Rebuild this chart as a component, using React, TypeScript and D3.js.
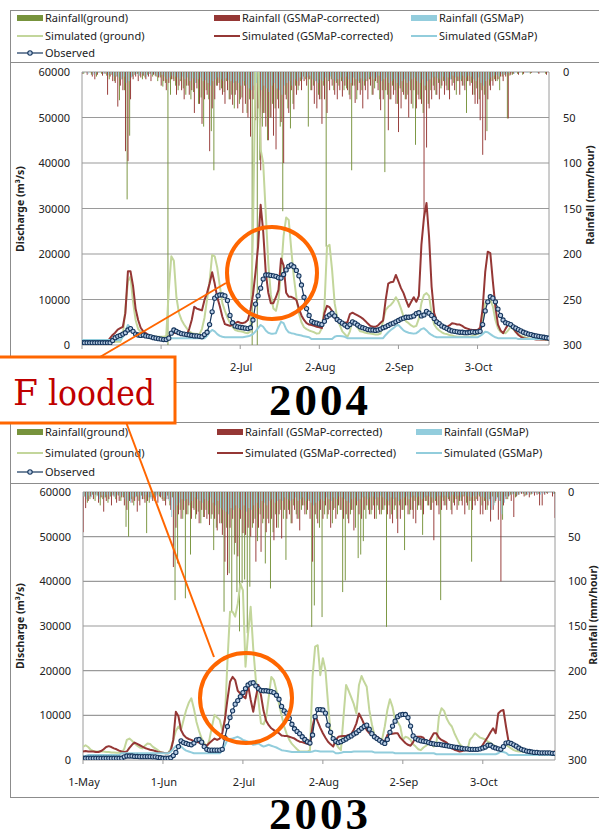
import React from "react";
import * as d3 from "d3";

// ---------- shared axis data ----------
const xTickLabels = ["1-May", "1-Jun", "2-Jul", "2-Aug", "2-Sep", "3-Oct"];
const xTickDays = [0, 31, 62, 93, 124, 155];
const dischargeTicks = [0, 10000, 20000, 30000, 40000, 50000, 60000];
const rainTicks = [0, 50, 100, 150, 200, 250, 300];
const legendLabels = [
  "Rainfall(ground)", "Rainfall (GSMaP-corrected)", "Rainfall (GSMaP)",
  "Simulated (ground)", "Simulated (GSMaP-corrected)", "Simulated (GSMaP)",
  "Observed",
];
const yearLabels = ["2004", "2003"];

// ---------- 2004 discharge (m3/s), daily from 1-May ----------
const obs04 = [
  500,500,500,500,500,500,500,500,500,500,
  500,500,1000,1600,1900,2100,2400,2700,3300,3600,
  3000,2400,2200,2100,2200,2000,1900,1800,1600,1500,
  1400,1300,1200,1200,1500,2600,3300,3000,2700,2500,
  2400,2300,2200,2100,2000,2000,1900,1800,2300,2800,
  4500,7300,10300,10800,11000,11000,10800,9800,6500,4900,
  4200,4000,3900,3800,3700,3600,3800,5500,9000,10800,
  12500,14500,15400,15400,15300,15200,15100,14800,14700,15500,
  16500,17300,17600,17200,16400,15200,13200,10500,8000,6500,
  5200,4900,4800,4600,4500,5200,6200,6600,7000,6400,
  5600,5200,4800,4400,4000,4500,5100,4800,4400,4000,
  3800,3600,3400,3300,3300,3200,3300,3500,3800,4000,
  4300,4600,4800,5100,5400,5700,5900,6100,6100,6200,
  6400,6900,7100,6400,6600,7400,7000,6500,5800,5100,
  4700,4200,3900,3600,3300,3100,3000,2900,2800,2800,
  2700,2700,2800,2900,2800,2900,3000,4500,7500,9500,
  10600,10300,9500,7900,6500,5500,4900,4700,4500,4000,
  3700,3400,3100,2800,2600,2400,2300,2100,2000,1900,
  1800,1700,1600,1500,
];
const simCor04 = [
  500,500,500,500,500,500,500,500,500,500,
  800,1500,2200,2700,3400,3700,4000,7000,16200,16200,
  13000,8000,5500,3800,3000,2600,2200,2000,1800,1700,
  1600,1500,1500,1400,1600,2900,2700,2600,2400,2300,
  2200,2200,3500,5500,8400,8000,7800,7600,9900,11400,
  13500,16000,13500,10500,8500,6200,4600,4400,4200,4500,
  4800,5100,4900,4800,5000,5500,7700,11000,16000,21600,
  30800,25000,16000,11500,9200,9200,10500,12100,19000,17500,
  11500,10600,10600,10300,9900,8000,6500,5500,4800,4500,
  4400,4200,4000,3900,3700,7000,8600,8300,7500,6000,
  5300,5000,4800,4900,5000,6800,7100,6800,6500,6200,
  5800,5300,4700,4200,4000,4000,4300,4900,5400,9900,
  13500,13800,13900,15400,14000,12500,11400,9800,8400,9500,
  10500,9500,10800,22000,28000,31200,23800,12800,7000,5300,
  4700,4400,4100,4000,4300,4800,4700,4500,4500,4200,
  3800,3600,3400,3300,3300,3300,3800,8000,16000,20500,
  20200,14000,8400,4500,3200,2600,3600,4500,4400,3700,
  2900,2200,1800,1500,1400,1300,1300,1300,1200,1200,
  1200,1200,1200,1200,
];
const simG04 = [
  700,700,700,700,700,700,700,700,700,700,
  700,700,700,700,700,700,2000,8000,14000,15000,
  9500,5500,3500,2900,2500,2200,2000,1900,1800,1800,
  1800,1800,1800,1900,12000,19500,18500,10500,7000,5500,
  4500,3700,3000,2600,2500,2400,2300,3500,6000,10000,
  14000,19800,19500,17000,13000,9200,7500,6000,4800,4000,
  3300,3100,3000,2900,2700,2600,3000,25000,62000,62000,
  43000,40000,29000,18000,11000,8000,7500,10000,16000,24000,
  28000,27500,21000,15000,10500,7000,5000,3900,3500,3200,
  3000,2800,2500,2600,3700,8400,21600,22000,16500,9200,
  6000,4400,3000,2400,1800,3000,5500,4800,3800,3000,
  2900,2700,2600,2500,2400,2300,2300,2500,5500,7700,
  8400,8800,9500,10500,9500,8000,6200,5200,4800,4300,
  4000,4200,5800,9200,11000,11400,10800,7000,4500,3700,
  3200,2800,2500,2400,2200,2100,1900,1800,1800,1800,
  1800,1800,1800,2000,2200,2400,2600,5500,9200,9900,
  9900,8500,5500,3700,2900,2700,2600,3200,4000,3500,
  2800,2300,2000,1800,1600,1500,1400,1400,1300,1300,
  1200,1200,1100,1100,
];
const simS04 = [
  1100,1100,1100,1100,1100,1100,1100,1100,1100,1100,
  1100,1100,1100,1100,1100,1100,1800,3000,4400,3800,
  3000,2600,2400,2200,2100,2000,1900,1800,1700,1700,
  1600,1500,1500,1500,1500,1500,1500,1500,1500,1500,
  1500,1500,1500,1500,1500,1500,1500,1500,1500,2000,
  2800,3300,3000,2400,2000,1800,1700,1700,1700,1700,
  1700,1700,1700,1700,1800,1900,2100,2400,3000,3700,
  4400,4000,3200,2700,2500,2500,2600,4000,5100,4800,
  3500,2800,2600,2500,2300,2200,2100,1900,1800,1700,
  1300,1300,1300,1300,1300,1300,1300,1300,1300,1800,
  2000,2000,1900,1800,1500,1500,1500,1500,1500,1500,
  1500,1500,1500,1500,1500,1500,1500,1500,1500,2200,
  2800,3300,3700,4200,4400,3800,3200,2900,2700,2600,
  2500,2600,3000,3500,3700,3200,2600,2200,1900,1700,
  1700,1700,1700,1700,1700,1700,1700,1700,1700,1700,
  1700,1700,1700,1700,1700,1700,2000,2400,2900,2800,
  2400,2000,1700,1500,1500,1500,1500,1500,1500,1500,
  1500,1300,1300,1300,1300,1300,1300,1300,1300,1300,
  1300,1300,1300,1300,
];
// ---------- 2004 rainfall (mm/hour), daily ----------
const rainG04 = [
  0,2,0,0,3,0,5,0,2,0,
  4,8,3,10,5,31,8,20,140,70,
  5,3,2,4,8,6,3,2,5,4,
  10,6,16,12,300,25,8,15,20,10,
  18,25,15,30,22,12,35,28,60,20,
  30,65,108,15,12,18,22,10,30,25,
  40,20,35,28,15,45,30,300,20,300,
  97,60,45,75,50,35,40,30,60,153,
  25,40,62,35,15,20,10,5,8,60,
  20,15,10,25,30,15,192,10,8,20,
  12,15,10,20,18,25,108,15,30,12,
  20,15,10,8,25,18,12,30,20,110,
  25,30,15,20,35,18,22,30,25,20,
  40,80,25,30,45,20,35,20,15,25,
  12,18,10,15,20,8,12,25,10,10,
  15,45,10,12,25,18,30,20,25,65,
  15,10,8,10,20,5,3,51,4,3,
  0,2,0,3,0,0,2,0,0,1,
  0,0,2,0,
];
const rainC04 = [
  2,0,3,0,5,8,3,0,4,2,
  25,5,10,12,38,15,20,87,98,30,
  8,5,10,6,4,8,5,10,3,5,
  6,15,10,20,12,8,10,25,15,20,
  30,15,25,20,45,18,35,57,30,25,
  87,40,30,15,20,25,35,20,30,36,
  25,40,30,45,35,50,71,30,53,40,
  108,45,60,75,50,70,85,40,55,100,
  30,45,20,41,25,15,20,10,15,8,
  20,35,40,30,57,30,45,20,15,25,
  30,20,27,15,20,30,15,34,20,25,
  40,20,30,15,25,10,20,42,30,20,
  64,30,25,35,66,40,25,30,50,35,
  20,40,30,35,160,83,40,30,20,25,
  30,15,25,20,30,15,20,10,25,15,
  20,10,15,25,35,35,53,91,75,30,
  20,15,10,8,5,10,5,51,3,2,
  0,3,0,2,0,0,1,0,0,2,
  0,0,3,0,
];
const rainS04 = [
  1,0,2,0,3,2,1,0,2,1,
  3,2,5,4,6,8,5,12,10,6,
  3,2,4,2,3,5,2,3,2,4,
  4,3,5,8,6,4,5,6,8,5,
  8,6,10,7,12,8,6,10,9,12,
  15,10,8,6,8,10,7,9,10,12,
  10,12,15,10,14,18,20,15,12,16,
  20,15,18,22,15,12,18,20,25,15,
  12,10,15,8,10,6,8,5,6,4,
  8,10,12,8,10,6,9,5,8,10,
  8,6,10,5,8,12,6,8,10,7,
  10,8,6,5,8,6,4,10,8,6,
  12,10,8,12,15,10,8,12,10,8,
  6,10,12,8,15,10,8,6,5,7,
  8,5,10,6,8,4,6,5,8,4,
  6,4,5,8,10,6,12,15,10,8,
  6,4,3,5,2,3,2,1,0,2,
  0,1,0,0,1,0,0,0,1,0,
  0,0,0,0,
];

// ---------- 2003 discharge (m3/s), daily from 1-May ----------
const obs03 = [
  400,400,400,400,400,400,400,400,400,400,
  400,400,400,400,400,400,700,900,900,900,
  800,800,750,750,750,750,750,700,700,600,
  500,400,400,400,500,1000,1700,3000,4300,3900,
  3700,3500,3400,3800,4500,4600,4000,3000,2400,2200,
  2200,2200,2200,2200,2400,5000,7500,9500,11000,12500,
  13300,14200,15100,16000,16800,17200,17300,16600,16000,15600,
  15500,15500,15400,15300,15100,14500,13600,12000,11000,10500,
  9300,8000,7000,6400,5900,5200,4600,4100,3800,5600,
  9700,11300,11300,11200,10500,7800,6200,4800,4200,3900,
  4100,4400,4700,5100,5400,5800,6100,6600,7100,7500,
  7800,6900,5900,5200,4800,4400,4000,3700,4600,6200,
  7600,8700,9700,10100,10200,10200,9500,7600,5400,4800,
  4500,4300,4200,4100,3900,3700,3600,3500,3500,3400,
  3300,3200,3100,3000,2900,2800,2700,2600,2500,2500,
  2400,2400,2400,2400,2500,2700,2900,3300,3300,2900,
  2700,2500,2400,3000,3800,3900,3700,3400,3100,2700,
  2400,2200,2000,1900,1800,1700,1700,1600,1600,1600,
  1600,1600,1500,1500,
];
const simCor03 = [
  1900,2000,1900,1900,1900,1800,1800,2000,2400,2900,
  3100,2900,2600,2400,2100,1900,1800,1900,2700,3400,
  3900,3600,3300,3000,2700,2500,2300,2200,2000,1800,
  1700,1600,1500,1500,2000,4500,10800,9800,6700,5600,
  5000,4700,4500,4200,4100,3900,3700,3400,3200,3800,
  4300,4800,4500,4800,6000,9000,13500,17500,18600,17900,
  15500,14900,14300,13800,16800,13500,10800,14000,16800,14500,
  11000,8800,7800,7100,6700,6300,6000,5500,5400,5400,
  5200,5000,4800,4400,4100,4000,3800,3600,3500,7500,
  10100,8600,7200,6000,5000,4100,3500,3000,4500,5200,
  5300,5400,5400,5600,5800,6800,8200,10400,9300,8000,
  6700,6000,5800,5600,5200,4800,4400,4100,5600,5800,
  5900,6000,6000,5000,4400,3800,3400,3200,4000,5200,
  5200,5200,5000,4100,4000,5000,6000,6000,5000,4500,
  4200,3900,3200,2600,2300,2100,1900,2000,2200,2200,
  2200,2200,2200,2200,2600,3400,4300,5200,6200,7100,
  6000,10400,11000,11200,7500,4100,3800,3400,3000,2600,
  2300,2100,1900,1800,1600,1600,1600,1600,1600,1600,
  1600,1700,1800,1900,
];
const simG03 = [
  2900,3300,2900,2300,2000,1900,1900,1900,1900,1800,
  1800,1700,1700,1600,1600,1600,2500,4500,4800,4300,
  3700,3200,2800,2600,3200,3700,3600,3000,2600,2200,
  1800,1600,1500,1500,2500,4500,6500,7500,6700,9000,
  11200,12800,13800,11500,8500,6500,4800,3800,3000,4500,
  7500,10100,9500,9000,6700,9000,22000,33200,33200,32100,
  35000,39500,38000,20900,28300,34300,25000,18000,13400,8200,
  8000,9500,14000,18600,17900,15500,12500,10000,7500,5800,
  4500,3600,3000,2400,1900,1900,1900,1900,2200,18600,
  25400,25700,19000,22800,20100,12700,6000,4500,3700,2800,
  2200,9700,16800,15500,14000,12500,10400,16800,18800,17500,
  16400,11200,8000,5500,5000,4500,4700,7500,11200,13600,
  11900,9000,8500,7500,4500,5200,5000,4500,3500,3000,
  2400,2200,2800,3200,3700,3500,3000,3500,9700,11600,
  11000,9300,8200,7500,6000,4800,3600,3000,2400,2200,
  4500,5200,6000,5500,5000,4800,4600,4100,3800,3400,
  3000,2600,2600,3000,3400,3000,2600,2200,2000,1900,
  1900,1800,1800,1700,1700,1600,1600,1600,1500,1500,
  1500,1500,1500,1500,
];
const simS03 = [
  700,900,1100,1100,1100,1100,1100,1100,1100,1100,
  1100,1100,1100,1100,1100,1500,1500,1500,1500,1500,
  1500,1500,1500,1500,1500,1500,1500,1500,1500,1500,
  1500,1500,1500,1500,1800,2500,3100,3400,3000,2500,
  2100,1900,1700,1500,1500,1500,1500,1500,1500,1500,
  1500,1500,1500,1500,2200,3300,4500,4700,4800,5000,
  5200,4900,4500,4300,4100,3800,3400,3500,3700,3300,
  3000,3200,3400,3200,3000,2800,2500,2200,2100,2000,
  1900,1800,1800,1800,1800,1800,1800,1800,1800,1900,
  2100,2000,1900,1900,1900,1900,1900,1900,1500,1500,
  1600,1800,1800,1800,1800,1900,1900,1900,1900,1900,
  1900,1900,1900,1700,1700,1700,1700,1700,1700,1700,
  1700,1500,1500,1500,1500,1500,1500,1500,1500,1500,
  1500,1500,1500,1500,1500,1500,1500,1300,1300,1300,
  1300,1300,1300,1300,1300,1300,1300,1300,1300,1300,
  1300,1300,1300,1300,1300,1300,1300,1300,1300,1300,
  1300,1500,1900,1800,1600,1100,1100,1100,1100,1100,
  1100,1100,1100,1100,1100,1100,1100,1100,1100,1100,
  1100,1100,1100,1100,
];
// ---------- 2003 rainfall (mm/hour), daily ----------
const rainG03 = [
  63,5,12,8,3,10,4,15,8,6,
  12,5,3,8,4,10,6,39,50,8,
  15,5,10,4,8,46,12,6,10,3,
  5,8,10,4,15,6,121,80,20,30,
  119,25,70,18,30,22,35,28,20,25,
  30,65,40,25,35,134,40,91,134,70,
  112,156,102,98,158,106,40,30,55,25,
  35,80,30,108,45,25,40,20,30,76,
  20,35,15,25,30,20,15,25,10,151,
  127,30,40,140,25,30,20,35,18,25,
  20,112,99,30,25,20,40,74,70,55,
  30,20,25,15,30,20,25,20,151,15,
  25,20,30,15,20,65,15,25,20,10,
  20,15,48,10,15,20,12,10,15,121,
  10,15,8,20,12,8,15,10,5,12,
  20,78,10,8,5,15,10,20,8,5,
  12,6,10,31,5,8,3,2,6,3,
  0,2,4,0,3,0,0,2,0,0,
  1,0,0,2,
];
const rainC03 = [
  45,18,10,5,8,3,12,6,22,10,
  8,15,5,12,10,6,15,20,10,12,
  10,22,15,8,12,10,6,10,8,12,
  6,10,15,8,20,84,40,25,30,20,
  25,15,30,20,25,35,20,28,30,37,
  25,30,43,35,48,78,93,40,30,57,
  72,30,46,48,40,50,35,78,40,67,
  30,45,35,30,54,40,25,52,20,30,
  25,35,20,30,43,15,25,20,30,78,
  25,35,20,30,15,25,40,20,30,15,
  20,30,25,35,20,43,15,25,30,20,
  15,25,20,30,15,25,20,15,25,30,
  35,15,46,30,20,15,25,20,30,35,
  15,20,25,10,15,20,54,15,25,20,
  15,20,10,25,15,20,10,15,25,15,
  10,20,15,10,25,25,20,15,33,20,
  10,31,100,15,8,5,10,28,5,3,
  2,5,3,6,2,4,3,15,15,3,
  2,0,5,29,
];
const rainS03 = [
  5,8,4,6,3,5,8,4,6,3,
  5,4,6,3,5,4,8,10,12,5,
  6,4,8,5,3,6,8,4,5,3,
  4,6,8,10,28,20,15,12,8,10,
  8,12,10,6,8,10,12,8,10,6,
  12,15,10,18,20,22,25,18,20,15,
  18,20,15,22,18,20,15,12,18,10,
  12,15,10,8,12,10,8,10,6,8,
  10,8,6,10,8,6,10,8,12,15,
  12,10,8,10,6,8,10,6,8,5,
  6,8,10,12,8,6,10,8,6,5,
  8,6,5,8,6,4,6,8,10,6,
  8,6,10,8,6,5,8,6,4,6,
  5,8,6,4,5,6,8,5,4,6,
  4,6,5,3,5,4,6,3,4,5,
  6,4,5,3,5,6,8,10,20,15,
  8,10,25,12,6,4,3,2,4,2,
  1,2,3,1,2,1,2,3,2,1,
  1,0,2,1,
];

// ---------- styling ----------
const COL = {
  rainG: "#77933C",
  rainC: "#953735",
  rainS: "#93CDDD",
  simG: "#C3D69B",
  simC: "#953735",
  simS: "#92CDDC",
  obs: "#17375E",
  obsFill: "#B9CDE5",
  grid: "#9A9A9A",
  frame: "#8C8C8C",
  text: "#222",
  orange: "#FF6600",
};
const SANS = "'Noto Sans', 'Open Sans', Arial, sans-serif";
const SERIF = "'Liberation Serif', 'Times New Roman', serif";
const SERIF2 = "'DejaVu Serif', 'Liberation Serif', serif";

type Cfg = {
  id: string;
  frameTop: number; legendBottom: number; frameBottom: number;
  plotL: number; plotR: number; plotT: number; plotB: number;
  legendY: number[]; legendX: number[]; textOff: number;
  leftTitleY: number; rightTitleX: number; rightTitleY: number;
  xLabelY: number; yearY: number; rightLabelX: number; year: string;
};
type Series = {
  obs: number[]; simG: number[]; simC: number[]; simS: number[];
  rainG: number[]; rainC: number[]; rainS: number[];
};

function Legend({ cfg }: { cfg: Cfg }) {
  const kinds = [
    { k: "bar", c: COL.rainG, col: 0, row: 0 },
    { k: "bar", c: COL.rainC, col: 1, row: 0 },
    { k: "bar", c: COL.rainS, col: 2, row: 0 },
    { k: "line", c: COL.simG, col: 0, row: 1 },
    { k: "line", c: COL.simC, col: 1, row: 1 },
    { k: "line", c: COL.simS, col: 2, row: 1 },
    { k: "obs", c: COL.obs, col: 0, row: 2 },
  ];
  return (
    <g>
      {kinds.map((it, i) => {
        const x = cfg.legendX[it.col];
        const y = cfg.legendY[it.row];
        return (
          <g key={i}>
            {it.k === "bar" && <rect x={x} y={y - 3} width={26} height={6} fill={it.c} />}
            {it.k === "line" && <line x1={x} x2={x + 26} y1={y} y2={y} stroke={it.c} strokeWidth={2} />}
            {it.k === "obs" && (
              <g>
                <line x1={x} x2={x + 26} y1={y} y2={y} stroke={it.c} strokeWidth={1.2} />
                <circle cx={x + 13} cy={y} r={2.2} fill={COL.obsFill} stroke={it.c} strokeWidth={1.1} />
              </g>
            )}
            <text x={x + cfg.textOff} y={y + 4} fontSize={11} fontFamily={SANS} fill={COL.text}>
              {legendLabels[i]}
            </text>
          </g>
        );
      })}
    </g>
  );
}

function Panel({ cfg, s }: { cfg: Cfg; s: Series }) {
  const n = s.obs.length;
  const x = d3.scaleLinear().domain([0, n - 1]).range([cfg.plotL, cfg.plotR]);
  const y = d3.scaleLinear().domain([0, 60000]).range([cfg.plotB, cfg.plotT]);
  const yr = d3.scaleLinear().domain([0, 300]).range([cfg.plotT, cfg.plotB]);
  const line = d3.line<number>().x((_, i) => x(i)).y((d) => y(d)).curve(d3.curveLinear);
  const clipId = "clip-" + cfg.id;
  const bars = [
    { d: s.rainG, c: COL.rainG, off: -1.3 },
    { d: s.rainC, c: COL.rainC, off: -0.4 },
    { d: s.rainS, c: COL.rainS, off: 0.5 },
  ];
  return (
    <g>
      {/* chart frame */}
      <rect x={10.5} y={cfg.frameTop + 0.5} width={640} height={cfg.frameBottom - cfg.frameTop}
        fill="#fff" stroke={COL.frame} strokeWidth={1} />
      <line x1={10.5} x2={640} y1={cfg.legendBottom + 0.5} y2={cfg.legendBottom + 0.5} stroke={COL.frame} />
      <Legend cfg={cfg} />
      <defs>
        <clipPath id={clipId}>
          <rect x={cfg.plotL} y={cfg.plotT} width={cfg.plotR - cfg.plotL} height={cfg.plotB - cfg.plotT} />
        </clipPath>
      </defs>
      {/* gridlines */}
      {dischargeTicks.map((t) => (
        <line key={t} x1={cfg.plotL} x2={cfg.plotR} y1={y(t)} y2={y(t)} stroke={COL.grid} strokeWidth={1.2} />
      ))}
      <line x1={cfg.plotL} x2={cfg.plotL} y1={cfg.plotT} y2={cfg.plotB} stroke={COL.grid} />
      <line x1={cfg.plotR} x2={cfg.plotR} y1={cfg.plotT} y2={cfg.plotB} stroke={COL.grid} />
      {xTickDays.map((d) => (
        <line key={d} x1={x(d)} x2={x(d)} y1={cfg.plotB} y2={cfg.plotB + 4} stroke={COL.grid} />
      ))}
      {/* rainfall bars hanging from top */}
      <g clipPath={`url(#${clipId})`}>
        {bars.map((b, k) => (
          <g key={k} fill={b.c}>
            {b.d.map((v, i) =>
              v > 0 ? (
                <rect key={i} x={x(i) + b.off} y={cfg.plotT} width={0.95} height={yr(v) - cfg.plotT} />
              ) : null
            )}
          </g>
        ))}
        {/* simulated lines */}
        <path d={line(s.simG) || ""} fill="none" stroke={COL.simG} strokeWidth={2} strokeLinejoin="round" />
        <path d={line(s.simC) || ""} fill="none" stroke={COL.simC} strokeWidth={2} strokeLinejoin="round" />
        <path d={line(s.simS) || ""} fill="none" stroke={COL.simS} strokeWidth={2} strokeLinejoin="round" />
        <path d={line(s.obs) || ""} fill="none" stroke={COL.obs} strokeWidth={1.2} />
        {s.obs.map((v, i) => (
          <circle key={i} cx={x(i)} cy={y(v)} r={2.1} fill={COL.obsFill} stroke={COL.obs} strokeWidth={1.1} />
        ))}
      </g>
      {/* left axis labels */}
      {dischargeTicks.map((t) => (
        <text key={t} x={cfg.plotL - 12} y={y(t) + 4} textAnchor="end" fontSize={11} fontFamily={SANS} fill={COL.text}>
          {t}
        </text>
      ))}
      {/* right axis labels */}
      {rainTicks.map((t) => (
        <text key={t} x={cfg.rightLabelX} y={yr(t) + 4} fontSize={11} fontFamily={SANS} fill={COL.text}>
          {t}
        </text>
      ))}
      {/* x labels */}
      {xTickDays.map((d, i) => (
        <text key={d} x={x(d) + 1} y={cfg.xLabelY} textAnchor="middle" fontSize={11} fontFamily={SANS} fill={COL.text}>
          {xTickLabels[i]}
        </text>
      ))}
      {/* axis titles */}
      <text transform={`translate(24,${cfg.leftTitleY}) rotate(-90)`} textAnchor="middle" fontSize={10.5}
        fontWeight="bold" fontFamily={SANS} fill={COL.text}>
        Discharge (m³/s)
      </text>
      <text transform={`translate(${cfg.rightTitleX},${cfg.rightTitleY}) rotate(-90)`} textAnchor="middle"
        fontSize={10.5} fontWeight="bold" fontFamily={SANS} fill={COL.text}>
        Rainfall (mm/hour)
      </text>
      {/* year */}
      <text x={320} y={cfg.yearY} textAnchor="middle" fontSize={45} fontWeight="bold" fontFamily={SERIF}
        letterSpacing={3} fill="#000">
        {cfg.year}
      </text>
    </g>
  );
}

const cfgTop: Cfg = {
  id: "top", frameTop: 10, legendBottom: 62, frameBottom: 382,
  plotL: 82, plotR: 549, plotT: 72, plotB: 345,
  legendY: [18, 36, 53], legendX: [17, 214, 411], textOff: 28,
  leftTitleY: 209, rightTitleX: 594, rightTitleY: 195,
  xLabelY: 371, yearY: 415, rightLabelX: 563, year: yearLabels[0],
};
const cfgBottom: Cfg = {
  id: "bot", frameTop: 422, legendBottom: 483, frameBottom: 797,
  plotL: 83, plotR: 555, plotT: 492, plotB: 760,
  legendY: [432, 453, 472], legendX: [17, 217, 416], textOff: 28,
  leftTitleY: 626, rightTitleX: 597, rightTitleY: 615,
  xLabelY: 786, yearY: 829, rightLabelX: 568, year: yearLabels[1],
};

export default function App() {
  return (
    <svg width={599} height={836} viewBox="0 0 599 836"
      style={{ position: "absolute", left: 0, top: 0, background: "#fff" }}>
      <rect width={599} height={836} fill="#fff" />
      <Panel cfg={cfgBottom}
        s={{ obs: obs03, simG: simG03, simC: simCor03, simS: simS03, rainG: rainG03, rainC: rainC03, rainS: rainS03 }} />
      <Panel cfg={cfgTop}
        s={{ obs: obs04, simG: simG04, simC: simCor04, simS: simS04, rainG: rainG04, rainC: rainC04, rainS: rainS04 }} />
      {/* annotation */}
      <ellipse cx={272} cy={273} rx={45} ry={46} fill="none" stroke={COL.orange} strokeWidth={4} />
      <ellipse cx={246} cy={698} rx={46} ry={45} fill="none" stroke={COL.orange} strokeWidth={4} />
      <line x1={100} y1={357} x2={226} y2={283} stroke={COL.orange} strokeWidth={2} />
      <line x1={126} y1={422} x2={214} y2={657} stroke={COL.orange} strokeWidth={2} />
      <rect x={-2} y={357} width={177} height={66} fill="#fff" stroke={COL.orange} strokeWidth={3} />
      <text y={405} fontSize={36} fontFamily={SERIF2} fill="#C00000">
        <tspan x={13}>F</tspan>
        <tspan x={48} textLength={107} lengthAdjust="spacingAndGlyphs">looded</tspan>
      </text>
    </svg>
  );
}
